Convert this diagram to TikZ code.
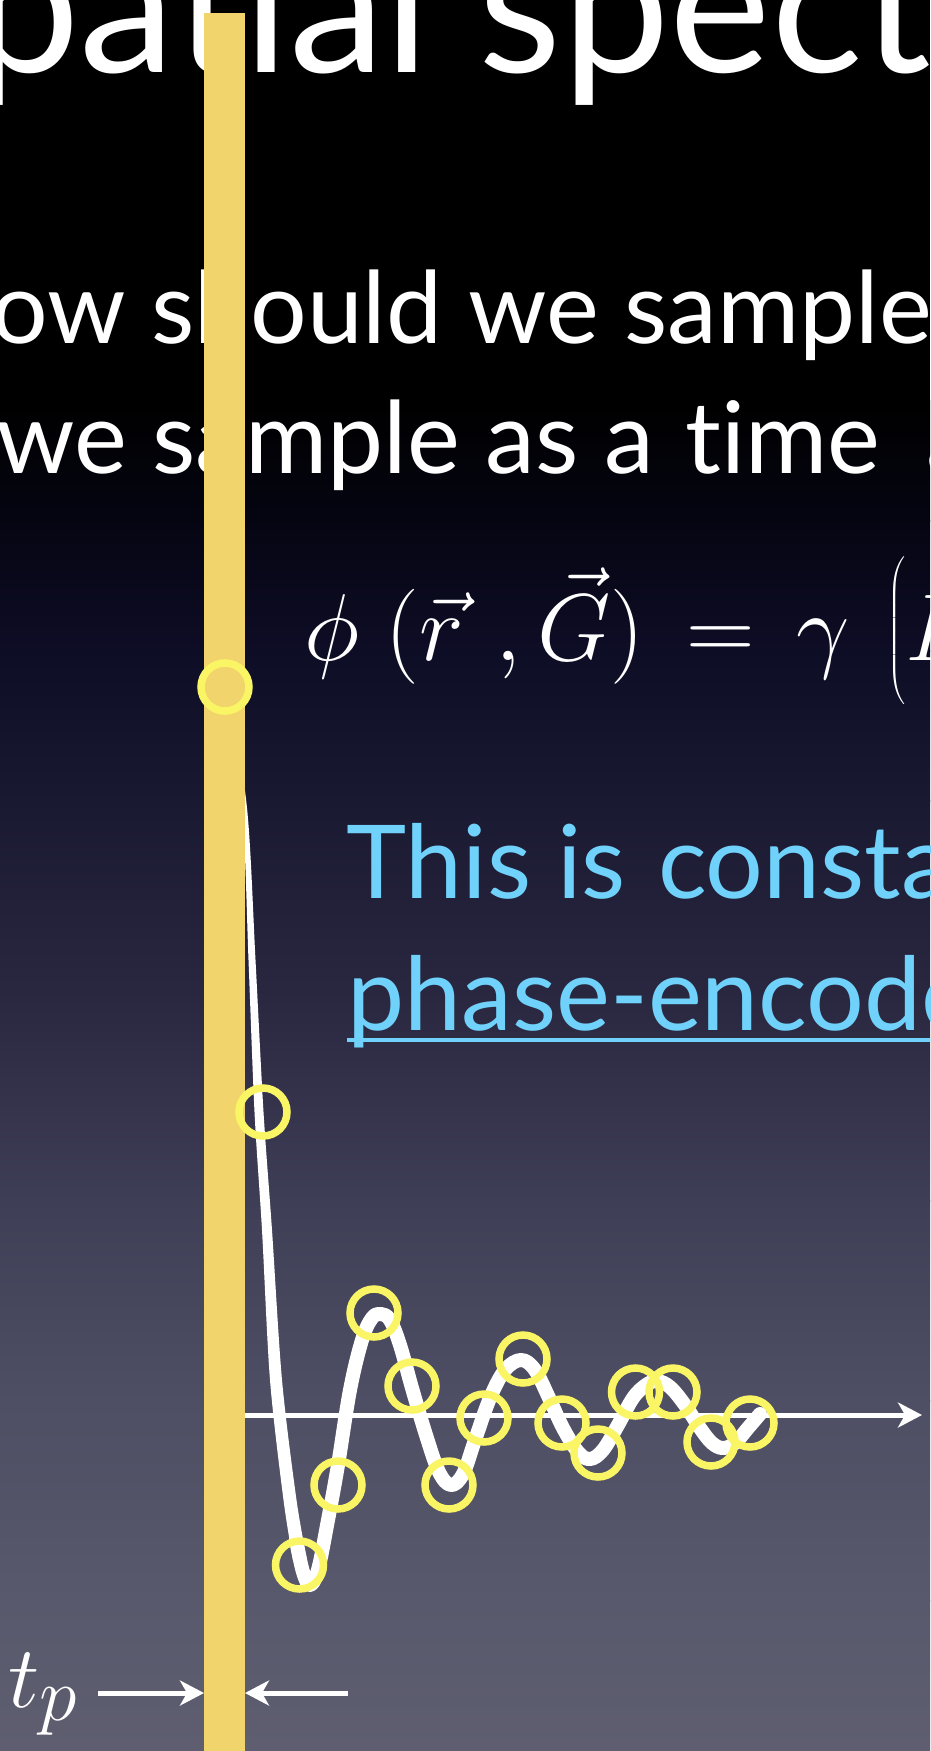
\RequirePackage{fix-cm}
\documentclass[tikz,border=0pt]{standalone}
\usepackage{amsmath}
\usepackage{graphicx}
\usepackage{fontspec}
\setmainfont[Ligatures=NoCommon]{Lato}
\usetikzlibrary{arrows.meta}
\definecolor{baryellow}{RGB}{242,212,108}
\definecolor{ringyellow}{RGB}{250,245,100}
\definecolor{cyantext}{RGB}{112,210,250}
\definecolor{bgA}{RGB}{0,0,0}
\definecolor{bgB}{RGB}{5,5,18}
\definecolor{bgC}{RGB}{14,13,38}
\definecolor{bgD}{RGB}{26,25,50}
\definecolor{bgE}{RGB}{42,40,64}
\definecolor{bgF}{RGB}{62,62,86}
\definecolor{bgG}{RGB}{78,78,100}
\definecolor{bgH}{RGB}{88,89,108}
\definecolor{bgI}{RGB}{94,94,112}
\tikzset{
  band/.style n args={2}{top color=#1, bottom color=#2, draw=none},
  bodytext/.style={text=white, inner sep=0pt, anchor=base west, font=\fontsize{100}{110}\selectfont},
  cyantxt/.style={text=cyantext, inner sep=0pt, anchor=base west, font=\fontsize{102}{110}\selectfont},
  samp/.style={circle, draw=ringyellow, line width=7.5pt, minimum size=48pt, inner sep=0pt},
  wline/.style={draw=white, line width=5pt},
  tip/.style={-{Stealth[length=24pt,width=25pt,inset=7pt]}},
}
\begin{document}
\begin{tikzpicture}[x=1pt,y=-1pt]
\useasboundingbox (0,0) rectangle (930,1751);
\clip (0,0) rectangle (930,1751);
% background
\fill[bgA] (0,0) rectangle (930,401);
\shade[band={bgA}{bgB}] (0,400) rectangle (930,521);
\shade[band={bgB}{bgC}] (0,520) rectangle (930,651);
\shade[band={bgC}{bgD}] (0,650) rectangle (930,801);
\shade[band={bgD}{bgE}] (0,800) rectangle (930,1001);
\shade[band={bgE}{bgF}] (0,1000) rectangle (930,1201);
\shade[band={bgF}{bgG}] (0,1200) rectangle (930,1401);
\shade[band={bgG}{bgH}] (0,1400) rectangle (930,1601);
\shade[band={bgH}{bgI}] (0,1600) rectangle (930,1751);
% texts
\node[text=white, inner sep=0pt, anchor=base west, font=\fontsize{192}{200}\selectfont] (title) at (-28,72) {patial spect};
\node[bodytext] (line1) at (-9,343) {ow should we sample};
\node[bodytext] (line2) at (-4,473) {we sample as a\hspace{6pt} time\hspace{20pt} a};
\node[text=white, inner sep=0pt, anchor=base west] (eq) at (304,660)
  {\fontsize{95}{105}\selectfont$\phi\mkern5mu(\vec{r}\mkern6mu,\vec{G})\mkern3mu=\mkern3mu\gamma\mkern7mu\raisebox{10pt}{\scalebox{0.824}{$\Bigl($}}B$};
\node[cyantxt] (const) at (346,898) {This is\hspace{6pt} consta};
\node[cyantxt] (phase) at (347,1030) {phase-encode};
\draw[draw=cyantext, line width=4pt] (phase.base west |- 0,1040) coordinate (ul0) -- (940,1040) coordinate (ul1);
% axis
\coordinate (ax0) at (240,1415);
\coordinate (ax1) at (922,1415);
\draw[wline, tip] (ax0) -- (ax1);
% signal curve
\fill[white] plot[smooth] coordinates {(226,687) (242.5,813) (248.5,960) (254.5,1112) (262,1230) (270,1380) (283.5,1500) (293,1560)}
  -- plot[smooth] coordinates {(307,1560) (296.5,1500) (282,1380) (272,1230) (263.5,1112) (255.5,960) (247.5,813) (230,687)} -- cycle;
\draw[white, line width=14pt, line cap=round, line join=round] plot[smooth, tension=0.6] coordinates {
 (296,1540) (303,1572) (310,1585) (318,1570) (328,1520) (338,1465) (350,1390) (362,1340) (372,1318) (381,1314) (390,1320) (400,1345) (412,1388) (426,1435) (439,1472) (451,1485) (463,1474) (475,1440) (490,1398) (505,1370) (521,1360) (535,1370) (550,1400) (563,1428) (578,1452) (590,1459) (603,1450) (618,1425) (633,1398) (646,1385) (657,1381) (670,1387) (685,1405) (700,1428) (712,1443) (723,1448) (735,1443) (748,1428) (760,1414)};
% yellow bar
\node[fill=baryellow, minimum width=41pt, minimum height=1760pt, inner sep=0pt, outer sep=0pt, anchor=north west] (bar) at (204,13) {};
% sample circles
\node[samp] (s0) at (225,687) {};
\node[samp] (s1) at (263,1112) {};
\node[samp] (s2) at (299.5,1565) {};
\node[samp] (s3) at (338,1485) {};
\node[samp] (s4) at (374,1313) {};
\node[samp] (s5) at (412,1386) {};
\node[samp] (s6) at (449,1485) {};
\node[samp] (s7) at (484,1418) {};
\node[samp] (s8) at (523,1359) {};
\node[samp] (s9) at (562,1423) {};
\node[samp] (s10) at (598,1453) {};
\node[samp] (s11) at (635.5,1392) {};
\node[samp] (s12) at (673,1392) {};
\node[samp] (s13) at (711,1442) {};
\node[samp] (s14) at (750,1423) {};
% t_p arrows
\node[text=white, inner sep=0pt, anchor=base west] (tp) at (8,1707)
  {\fontsize{88}{96}\selectfont$t_{\mbox{\fontsize{76}{80}\selectfont$p$}}$};
\coordinate (tpa) at (98,1693);
\coordinate (tpb) at (348,1693);
\draw[wline, tip] (tpa) -- (tpa -| bar.west);
\draw[wline, tip] (tpb) -- (tpb -| bar.east);
\end{tikzpicture}
\end{document}
